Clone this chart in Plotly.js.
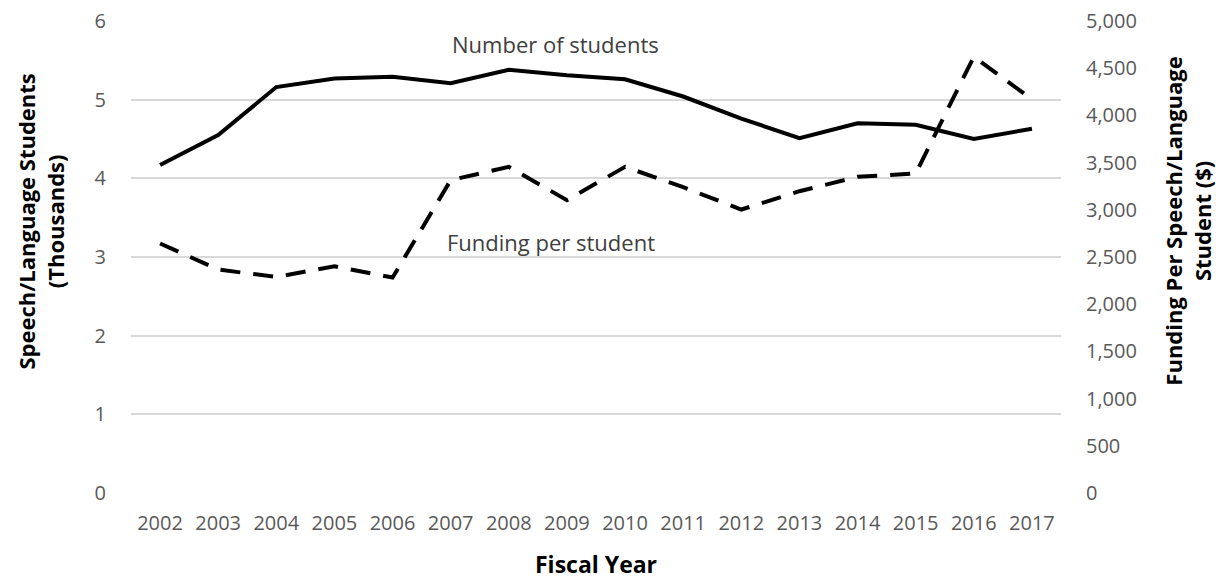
<!DOCTYPE html>
<html>
<head>
<meta charset="utf-8">
<script src="https://cdn.plot.ly/plotly-3.0.1.min.js"></script>
<style>html,body{margin:0;padding:0;background:#fff;}#chart{width:1228px;height:581px;}</style>
</head>
<body>
<div id="chart"></div>
<script>
const years = ['2002','2003','2004','2005','2006','2007','2008','2009','2010','2011','2012','2013','2014','2015','2016','2017'];
const students = [4.17, 4.55, 5.16, 5.27, 5.29, 5.21, 5.38, 5.31, 5.26, 5.04, 4.76, 4.51, 4.70, 4.68, 4.50, 4.63];
const fundingPerStudent = [2643, 2367, 2289, 2402, 2282, 3314, 3455, 3102, 3455, 3240, 3003, 3197, 3349, 3385, 4621, 4170];

const tickFont = {family: 'Open Sans', size: 20, color: '#595959'};
const titleFont = {family: 'Open Sans', size: 22, color: '#000000', weight: 'bold'};
const xTitleFont = {family: 'Open Sans', size: 23, color: '#000000', weight: 'bold'};
const labelFont = {family: 'Open Sans', size: 22, color: '#404040'};

const data = [
  {x: years, y: students, type: 'scatter', mode: 'lines', name: 'Number of students',
   line: {color: '#000000', width: 4}, yaxis: 'y'},
  {x: years, y: fundingPerStudent, type: 'scatter', mode: 'lines', name: 'Funding per student',
   line: {color: '#000000', width: 4, dash: '20px,13px'}, yaxis: 'y2'}
];

const layout = {
  width: 1228, height: 581,
  margin: {l: 131, r: 167, t: 21, b: 88},
  paper_bgcolor: '#ffffff', plot_bgcolor: '#ffffff',
  showlegend: false,
  xaxis: {type: 'category', range: [-0.5, 15.5], tickfont: tickFont, ticks: 'outside', ticklen: 12,
          tickcolor: 'rgba(0,0,0,0)', showgrid: false, zeroline: false, showline: false},
  yaxis: {range: [0, 6], dtick: 1, tickfont: tickFont, ticks: 'outside', ticklen: 20, tickcolor: 'rgba(0,0,0,0)',
          showgrid: true, gridcolor: '#d9d9d9', gridwidth: 2, zeroline: false, showline: false},
  yaxis2: {range: [0, 5000], dtick: 500, tickformat: ',', overlaying: 'y', side: 'right', tickfont: tickFont,
           ticks: 'outside', ticklen: 20, tickcolor: 'rgba(0,0,0,0)',
           showgrid: false, zeroline: false, showline: false},
  annotations: [
    {text: 'Number of students', xref: 'paper', yref: 'paper', x: 0.456, y: 0.952,
     xanchor: 'center', yanchor: 'middle', showarrow: false, font: labelFont},
    {text: 'Funding per student', xref: 'paper', yref: 'paper', x: 0.452, y: 0.531,
     xanchor: 'center', yanchor: 'middle', showarrow: false, font: labelFont},
    {text: 'Speech/Language Students<br>(Thousands)', xref: 'paper', yref: 'paper', x: -0.0968, y: 0.575,
     xanchor: 'center', yanchor: 'middle', textangle: -90, showarrow: false, font: titleFont},
    {text: 'Funding Per Speech/Language<br>Student ($)', xref: 'paper', yref: 'paper', x: 1.1366, y: 0.575,
     xanchor: 'center', yanchor: 'middle', textangle: -90, showarrow: false, font: titleFont},
    {text: 'Fiscal Year', xref: 'paper', yref: 'paper', x: 0.5, y: -0.151,
     xanchor: 'center', yanchor: 'middle', showarrow: false, font: xTitleFont}
  ]
};

Plotly.newPlot('chart', data, layout, {staticPlot: true});
</script>
</body>
</html>
